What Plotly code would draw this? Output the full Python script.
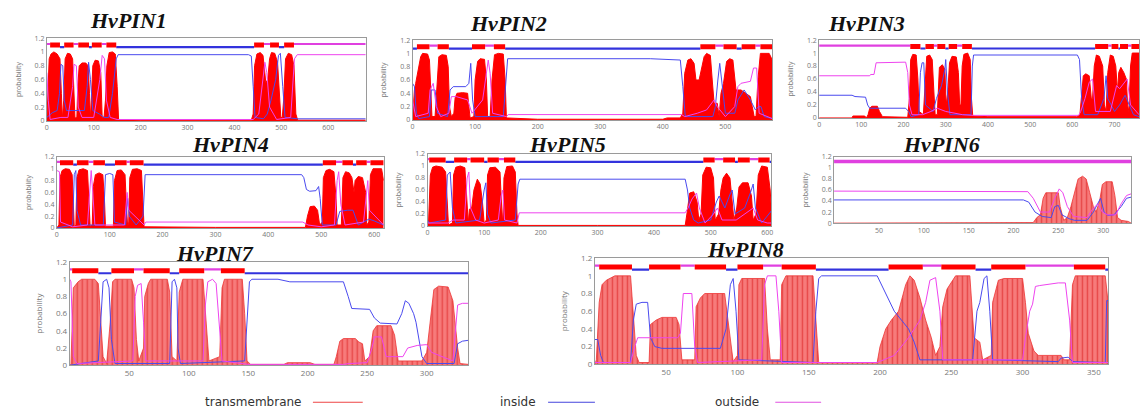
import plotly.graph_objects as go

W, H = 1141, 416

# ---------------- data (residue, probability) ----------------
PIN1_TM = [(0,0),(2,0.3),(5,0.9),(9,0.97),(15,1.0),(22,0.97),(28,0.9),(31,0.4),(33,0.03),(36,0.3),(39,0.9),(44,0.98),(50,0.97),(55,0.9),(58,0.5),(60,0.04),(64,0.05),(66,0.5),(69,0.8),(75,0.84),(83,0.84),(88,0.8),(91,0.4),(93,0.03),(95,0.3),(98,0.8),(103,0.88),(110,0.87),(115,0.7),(118,0.05),(122,0.05),(125,0.3),(128,0.8),(133,0.99),(140,1.0),(146,0.97),(150,0.5),(153,0.02),(200,0.01),(400,0.01),(410,0.02),(425,0.02),(436,0.01),(440,0.1),(443,0.8),(448,0.97),(455,0.99),(461,0.95),(464,0.7),(467,0.55),(471,0.6),(475,0.9),(479,0.99),(486,0.98),(492,0.85),(496,0.3),(499,0.05),(502,0.05),(505,0.3),(509,0.9),(515,0.98),(522,0.96),(527,0.8),(531,0.1),(535,0.01),(680,0.01)]
PIN1_IN = [(0,0.05),(12,0.12),(22,0.15),(27,0.4),(30,0.82),(34,0.8),(37,0.3),(42,0.15),(60,0.15),(80,0.15),(86,0.5),(89,0.85),(93,0.6),(98,0.15),(112,0.1),(122,0.05),(132,0.05),(140,0.4),(148,0.9),(152,0.96),(430,0.96),(436,0.94),(440,0.5),(444,0.05),(462,0.03),(470,0.1),(478,0.3),(488,0.6),(494,0.95),(498,0.98),(503,0.5),(508,0.05),(535,0.03),(680,0.03)]
PIN1_OUT = [(0,0.7),(3,0.3),(7,0.02),(30,0.05),(45,0.05),(55,0.5),(58,0.82),(63,0.8),(67,0.2),(75,0.05),(100,0.05),(113,0.6),(118,0.95),(123,0.9),(127,0.3),(135,0.05),(150,0.02),(440,0.02),(452,0.1),(461,0.6),(465,0.85),(469,0.7),(475,0.2),(490,0.02),(520,0.05),(528,0.9),(534,0.96),(680,0.96)]
PIN1_EDGES = [0,7,28,37,57,67,90,96,117,127,148,442,463,476,495,506,527,680]
PIN1_STATES = ["o","M","i","M","o","M","i","M","o","M","i","M","o","M","i","M","o"]

PIN2_TM = [(0,0),(3,0.45),(5,0.55),(9,0.75),(13,0.95),(16,1.0),(24,0.99),(27,0.9),(29,0.5),(31,0.05),(36,0.05),(39,0.6),(42,0.95),(47,0.98),(54,0.97),(57,0.8),(59,0.2),(62,0.05),(66,0.1),(68,0.33),(71,0.4),(80,0.41),(88,0.4),(90,0.2),(92,0.03),(98,0.05),(100,0.6),(104,0.88),(108,0.92),(115,0.91),(118,0.6),(120,0.05),(124,0.05),(127,0.6),(131,0.98),(137,1.0),(145,0.99),(148,0.6),(150,0.03),(200,0.01),(330,0.01),(340,0.015),(350,0.01),(400,0.01),(407,0.03),(428,0.03),(432,0.1),(435,0.7),(440,0.9),(445,0.92),(450,0.85),(453,0.6),(458,0.6),(461,0.75),(466,0.95),(470,1.0),(476,0.97),(479,0.6),(482,0.25),(487,0.25),(490,0.05),(493,0.4),(497,0.55),(502,0.88),(507,0.92),(512,0.9),(515,0.6),(517,0.45),(525,0.45),(533,0.4),(540,0.35),(543,0.2),(546,0.05),(549,0.05),(552,0.6),(556,1.0),(570,1.0),(575,0.9)]
PIN2_IN = [(0,0.55),(3,0.5),(6,0.1),(10,0.02),(27,0.05),(30,0.45),(36,0.45),(40,0.1),(56,0.05),(60,0.45),(65,0.5),(85,0.5),(90,0.55),(93,0.85),(96,0.3),(100,0.05),(145,0.05),(149,0.6),(152,0.92),(380,0.92),(420,0.9),(428,0.9),(432,0.5),(436,0.05),(480,0.05),(484,0.2),(488,0.6),(491,0.85),(494,0.6),(500,0.1),(515,0.1),(520,0.3),(530,0.45),(540,0.3),(548,0.15),(553,0.2),(557,0.2),(562,0.05),(575,0.02)]
PIN2_OUT = [(0,0.3),(5,0.05),(25,0.1),(28,0.45),(33,0.55),(38,0.2),(45,0.05),(58,0.1),(62,0.35),(70,0.35),(88,0.3),(95,0.1),(112,0.3),(118,0.7),(121,0.9),(124,0.7),(128,0.1),(150,0.05),(153,0.08),(430,0.08),(435,0.05),(455,0.1),(470,0.15),(482,0.3),(487,0.2),(500,0.05),(515,0.2),(520,0.5),(525,0.55),(540,0.58),(545,0.78),(550,0.78),(554,0.1),(575,0.02)]
PIN2_EDGES = [0,7,27,40,58,95,116,130,148,460,484,497,518,526,548,556,575]
PIN2_STATES = ["i","M","o","M","i","M","o","M","i","M","o","M","i","M","o","M"]

PIN3_TM = [(0,0),(78,0.0),(80,0.03),(108,0.03),(112,0.0),(116,0.05),(120,0.15),(125,0.18),(138,0.18),(143,0.1),(150,0.02),(210,0.01),(214,0.3),(217,0.9),(222,0.98),(230,0.97),(234,0.6),(237,0.1),(247,0.05),(251,0.5),(255,0.95),(262,0.97),(268,0.9),(272,0.4),(275,0.05),(280,0.05),(282,0.5),(285,0.78),(292,0.82),(298,0.75),(301,0.2),(305,0.4),(309,0.85),(315,0.95),(325,0.94),(330,0.7),(333,0.2),(336,0.2),(339,0.8),(343,0.98),(352,1.0),(358,0.9),(361,0.3),(364,0.03),(400,0.02),(610,0.02),(618,0.05),(622,0.4),(626,0.65),(632,0.68),(640,0.65),(645,0.3),(648,0.3),(652,0.8),(657,0.97),(664,0.95),(672,0.8),(676,0.2),(680,0.1),(684,0.7),(690,0.97),(697,0.95),(703,0.8),(707,0.4),(710,0.7),(715,0.78),(722,0.7),(728,0.6),(731,0.2),(734,0.1),(738,0.8),(742,1.0),(758,1.0)]
PIN3_IN = [(0,0.35),(78,0.35),(85,0.33),(110,0.32),(115,0.2),(120,0.15),(205,0.15),(212,0.1),(218,0.02),(236,0.05),(240,0.7),(244,0.85),(248,0.85),(252,0.2),(270,0.1),(278,0.3),(290,0.5),(298,0.75),(300,0.9),(304,0.4),(310,0.05),(360,0.05),(363,0.8),(366,0.97),(612,0.97),(617,0.9),(622,0.3),(628,0.05),(660,0.05),(675,0.3),(680,0.65),(684,0.3),(700,0.1),(712,0.2),(725,0.35),(735,0.2),(745,0.05),(758,0.02)]
PIN3_OUT = [(0,0.65),(120,0.65),(122,0.67),(130,0.67),(135,0.85),(205,0.86),(210,0.7),(214,0.2),(220,0.05),(245,0.05),(265,0.1),(280,0.15),(300,0.1),(340,0.05),(365,0.04),(615,0.04),(620,0.1),(630,0.3),(640,0.55),(648,0.6),(655,0.1),(690,0.1),(705,0.5),(712,0.45),(730,0.6),(738,0.2),(758,0.05)]
PIN3_EDGES = [0,216,240,252,272,280,299,307,327,339,362,654,685,693,709,713,732,740,758]
PIN3_STATES = ["o","M","i","M","o","M","i","M","o","M","i","M","o","M","i","M","o","M"]

PIN4_TM = [(0,0),(4,0.05),(6,0.85),(10,0.97),(16,1.0),(24,0.99),(29,0.9),(31,0.3),(33,0.02),(36,0.05),(38,0.85),(42,0.98),(50,1.0),(58,0.97),(61,0.4),(63,0.03),(67,0.05),(69,0.7),(73,0.9),(80,0.93),(87,0.9),(90,0.5),(92,0.03),(107,0.03),(109,0.8),(114,0.97),(122,0.98),(129,0.9),(132,0.3),(134,0.03),(136,0.1),(138,0.85),(143,0.99),(152,1.0),(160,0.97),(163,0.5),(165,0.02),(300,0.01),(470,0.01),(474,0.2),(479,0.36),(487,0.37),(493,0.3),(497,0.05),(502,0.1),(504,0.85),(509,0.97),(516,0.99),(524,0.95),(528,0.5),(530,0.05),(538,0.05),(541,0.85),(546,0.95),(553,0.93),(558,0.85),(562,0.6),(564,0.8),(570,0.87),(578,0.85),(584,0.6),(586,0.05),(590,0.1),(593,0.9),(598,1.0),(614,1.0),(618,0.8)]
PIN4_IN = [(0,0.0),(30,0.05),(33,0.9),(36,0.97),(38,0.3),(45,0.05),(88,0.05),(92,0.9),(100,0.92),(106,0.9),(109,0.1),(130,0.05),(134,0.5),(137,0.2),(150,0.05),(163,0.2),(167,0.9),(463,0.9),(467,0.85),(472,0.65),(478,0.62),(490,0.63),(495,0.7),(498,0.5),(502,0.05),(528,0.05),(535,0.28),(550,0.3),(560,0.3),(570,0.05),(590,0.15),(600,0.12),(618,0.05)]
PIN4_OUT = [(0,0.97),(5,0.95),(7,0.1),(30,0.02),(58,0.05),(62,0.6),(65,0.97),(68,0.6),(72,0.05),(128,0.05),(133,0.6),(136,0.3),(165,0.05),(168,0.1),(465,0.1),(475,0.05),(500,0.02),(525,0.05),(530,0.8),(533,0.95),(537,0.4),(545,0.05),(580,0.1),(588,0.8),(591,0.3),(618,0.05)]
PIN4_EDGES = [0,6,31,38,60,69,91,110,132,138,164,503,528,540,560,566,586,593,618]
PIN4_STATES = ["o","M","i","M","o","M","i","M","o","M","i","M","o","M","i","M","o","M"]

PIN5_TM = [(0,0),(2,0.1),(5,0.85),(9,0.98),(15,1.0),(26,0.98),(32,0.9),(35,0.3),(37,0.02),(44,0.05),(46,0.85),(50,0.98),(58,1.0),(66,0.97),(70,0.4),(72,0.05),(74,0.28),(78,0.3),(82,0.6),(88,0.78),(93,0.7),(97,0.4),(100,0.05),(104,0.1),(106,0.85),(110,0.97),(120,0.98),(128,0.9),(131,0.3),(133,0.03),(135,0.8),(140,0.99),(150,1.0),(155,0.9),(158,0.2),(160,0.01),(300,0.01),(455,0.01),(458,0.2),(463,0.55),(470,0.57),(476,0.4),(479,0.1),(483,0.2),(486,0.85),(492,0.98),(500,0.97),(505,0.8),(508,0.1),(514,0.2),(518,0.6),(522,0.8),(528,0.88),(534,0.8),(538,0.4),(541,0.1),(546,0.3),(550,0.65),(556,0.72),(566,0.72),(572,0.5),(575,0.1),(580,0.2),(584,0.85),(590,1.0),(600,0.98),(605,0.6),(607,0.3)]
PIN5_IN = [(0,0.1),(3,0.05),(32,0.1),(35,0.85),(40,0.9),(44,0.3),(50,0.05),(92,0.1),(100,0.6),(103,0.72),(106,0.2),(112,0.05),(155,0.1),(160,0.7),(163,0.78),(455,0.78),(459,0.6),(463,0.3),(470,0.1),(478,0.05),(500,0.1),(510,0.4),(515,0.5),(525,0.3),(535,0.55),(538,0.6),(543,0.2),(560,0.3),(570,0.55),(575,0.7),(579,0.3),(590,0.05),(607,0.25)]
PIN5_OUT = [(0,0.05),(36,0.05),(45,0.1),(65,0.1),(70,0.8),(73,0.9),(76,0.3),(85,0.1),(100,0.05),(125,0.1),(130,0.5),(133,0.6),(136,0.1),(158,0.05),(162,0.22),(455,0.22),(460,0.3),(467,0.45),(475,0.55),(480,0.3),(490,0.05),(505,0.2),(512,0.3),(520,0.1),(545,0.1),(560,0.2),(575,0.3),(583,0.1),(600,0.05),(607,0.05)]
PIN5_EDGES = [0,3,32,47,70,76,100,106,126,135,155,487,507,522,543,548,569,584,604,607]
PIN5_STATES = ["o","M","i","M","o","M","i","M","o","M","i","M","o","M","i","M","o","M","i"]

PIN6_TM = [(0,0),(80,0.0),(90,0.01),(125,0.01),(135,0.0),(205,0.0),(210,0.01),(222,0.01),(226,0.1),(230,0.15),(233,0.45),(236,0.55),(250,0.55),(252,0.3),(256,0.05),(260,0.1),(264,0.3),(268,0.55),(272,0.8),(277,0.85),(281,0.8),(285,0.55),(289,0.3),(292,0.2),(296,0.4),(299,0.7),(303,0.75),(310,0.75),(313,0.5),(316,0.1),(320,0.05),(328,0.03),(331,0.0)]
PIN6_IN = [(0,0.42),(211,0.42),(217,0.38),(224,0.2),(232,0.12),(242,0.1),(246,0.3),(250,0.32),(254,0.15),(262,0.08),(268,0.05),(282,0.05),(289,0.2),(293,0.32),(297,0.45),(301,0.2),(305,0.14),(312,0.15),(320,0.3),(326,0.45),(331,0.47)]
PIN6_OUT = [(0,0.58),(211,0.58),(216,0.57),(222,0.45),(230,0.2),(240,0.2),(246,0.45),(251,0.62),(255,0.55),(260,0.3),(267,0.12),(282,0.1),(288,0.25),(294,0.35),(299,0.2),(305,0.15),(314,0.15),(320,0.35),(326,0.5),(331,0.53)]
PIN6_EDGES = [0,331]
PIN6_STATES = ["o"]

PIN7_TM = [(0,0),(1,0.01),(3,0.9),(7,0.97),(10,1.0),(21,1.0),(24,0.95),(26,0.5),(28,0.1),(31,0.02),(34,0.5),(36,0.97),(38,1.0),(52,1.0),(54,0.9),(56,0.3),(58,0.05),(62,0.2),(63,0.8),(66,0.95),(68,1.0),(82,1.0),(84,0.85),(86,0.1),(90,0.05),(92,0.85),(95,1.0),(112,1.0),(114,0.6),(117,0.05),(126,0.1),(128,0.9),(130,1.0),(145,1.0),(147,0.6),(149,0.05),(152,0.01),(180,0.01),(183,0.03),(202,0.03),(206,0.01),(222,0.01),(224,0.1),(227,0.28),(230,0.31),(240,0.31),(243,0.27),(246,0.25),(248,0.05),(252,0.1),(255,0.4),(258,0.46),(270,0.46),(273,0.35),(276,0.05),(285,0.05),(296,0.05),(300,0.15),(303,0.5),(306,0.88),(310,0.92),(318,0.91),(322,0.75),(326,0.2),(328,0.02),(335,0.01)]
PIN7_IN = [(0,0.0),(24,0.05),(26,0.5),(28,0.97),(31,1.0),(33,0.9),(35,0.3),(38,0.02),(84,0.02),(85,0.5),(86,0.97),(88,1.0),(90,0.9),(91,0.2),(93,0.02),(147,0.05),(149,0.5),(151,0.97),(153,1.0),(175,1.0),(185,0.97),(230,0.97),(234,0.8),(237,0.66),(252,0.65),(256,0.55),(261,0.49),(275,0.48),(279,0.6),(282,0.75),(285,0.72),(289,0.6),(291,0.5),(296,0.1),(300,0.02),(323,0.02),(326,0.25),(330,0.28),(335,0.29)]
PIN7_OUT = [(0,1.0),(1,0.97),(3,0.1),(6,0.02),(53,0.05),(55,0.8),(57,0.93),(60,0.95),(62,0.5),(64,0.05),(112,0.05),(114,0.7),(116,0.97),(120,1.0),(123,0.95),(126,0.4),(128,0.05),(150,0.01),(230,0.01),(235,0.02),(250,0.03),(254,0.2),(256,0.33),(262,0.33),(266,0.1),(280,0.1),(284,0.2),(292,0.23),(300,0.24),(304,0.15),(322,0.05),(326,0.7),(330,0.72),(335,0.72)]
PIN7_EDGES = [0,2,24,35,54,62,84,92,113,127,147,335]
PIN7_STATES = ["o","M","i","M","o","M","i","M","o","M","i"]

PIN8_TM = [(0,0),(1,0.05),(3,0.7),(5,0.9),(8,0.95),(14,1.0),(25,1.0),(27,0.6),(29,0.1),(31,0.02),(38,0.02),(39,0.45),(43,0.5),(47,0.53),(57,0.53),(59,0.45),(61,0.05),(70,0.05),(71,0.65),(74,0.75),(77,0.8),(91,0.8),(93,0.55),(95,0.3),(97,0.03),(100,0.1),(101,0.9),(103,0.97),(119,0.97),(121,0.4),(123,0.05),(130,0.05),(131,0.9),(134,1.0),(153,1.0),(155,0.5),(157,0.02),(198,0.02),(200,0.2),(204,0.4),(208,0.5),(213,0.6),(218,0.9),(221,1.0),(224,0.95),(228,0.75),(232,0.5),(236,0.3),(239,0.1),(242,0.2),(244,0.65),(247,0.85),(251,0.95),(253,1.0),(263,1.0),(266,0.3),(270,0.25),(272,0.05),(278,0.1),(279,0.7),(283,0.95),(287,0.97),(300,0.97),(302,0.7),(304,0.35),(308,0.15),(311,0.1),(327,0.1),(329,0.05),(333,0.05),(335,0.9),(337,1.0),(358,1.0),(360,0.7)]
PIN8_IN = [(0,0.28),(2,0.28),(4,0.1),(6,0.02),(25,0.02),(27,0.5),(29,0.68),(33,0.7),(37,0.7),(39,0.3),(42,0.2),(47,0.18),(88,0.18),(92,0.4),(95,0.9),(97,0.97),(99,0.6),(101,0.05),(153,0.02),(155,0.6),(157,0.97),(159,1.0),(198,1.0),(201,0.9),(205,0.75),(210,0.6),(215,0.5),(220,0.4),(224,0.25),(228,0.05),(265,0.05),(268,0.6),(270,0.7),(273,0.97),(275,1.0),(277,0.6),(279,0.05),(325,0.03),(327,0.07),(332,0.08),(335,0.03),(358,0.02),(359,0.72),(360,0.72)]
PIN8_OUT = [(0,0.02),(25,0.02),(28,0.2),(30,0.3),(40,0.3),(58,0.3),(60,0.35),(62,0.8),(68,0.8),(70,0.2),(72,0.02),(117,0.05),(119,0.9),(121,1.0),(127,1.0),(129,0.6),(131,0.02),(198,0.02),(210,0.1),(220,0.3),(228,0.5),(232,0.7),(235,0.95),(239,0.98),(242,0.6),(244,0.05),(300,0.05),(302,0.3),(305,0.6),(307,0.68),(309,0.88),(312,0.89),(325,0.92),(330,0.92),(333,0.5),(335,0.02),(360,0.02)]
PIN8_EDGES = [0,3,26,38,60,70,92,100,118,131,155,206,230,243,267,278,302,336,358,360]
PIN8_STATES = ["o","M","i","M","o","M","i","M","o","M","i","M","o","M","i","M","o","M","i"]

NAMES = ["HvPIN1","HvPIN2","HvPIN3","HvPIN4","HvPIN5","HvPIN6","HvPIN7","HvPIN8"]
X_MAX = [680, 575, 758, 618, 607, 331, 335, 360]
X_TICKS = [list(range(0, 601, 100)), list(range(0, 501, 100)), list(range(0, 701, 100)),
           list(range(0, 601, 100)), list(range(0, 601, 100)), list(range(50, 301, 50)),
           list(range(50, 301, 50)), list(range(50, 351, 50))]
Y_TICKS = [0, 0.2, 0.4, 0.6, 0.8, 1.0, 1.2]
Y_TICKTEXT = ["0", "0.2", "0.4", "0.6", "0.8", "1", "1.2"]
LEGEND_LABELS = ["transmembrane", "inside", "outside"]

PROFILES = [
    (PIN1_TM, PIN1_IN, PIN1_OUT, PIN1_EDGES, PIN1_STATES),
    (PIN2_TM, PIN2_IN, PIN2_OUT, PIN2_EDGES, PIN2_STATES),
    (PIN3_TM, PIN3_IN, PIN3_OUT, PIN3_EDGES, PIN3_STATES),
    (PIN4_TM, PIN4_IN, PIN4_OUT, PIN4_EDGES, PIN4_STATES),
    (PIN5_TM, PIN5_IN, PIN5_OUT, PIN5_EDGES, PIN5_STATES),
    (PIN6_TM, PIN6_IN, PIN6_OUT, PIN6_EDGES, PIN6_STATES),
    (PIN7_TM, PIN7_IN, PIN7_OUT, PIN7_EDGES, PIN7_STATES),
    (PIN8_TM, PIN8_IN, PIN8_OUT, PIN8_EDGES, PIN8_STATES),
]

# ---------------- layout (pixel boxes: x0, x1, ytop, ybottom) ----------------
BOXES = [(45, 365, 33, 118), (412, 773, 35, 117), (820, 1141, 35, 115),
         (55, 383, 155, 228), (427, 772, 152, 226), (835, 1133, 155, 223),
         (68, 468, 263, 369), (595, 1110, 259, 368)]
TITLE_POS = [(127, 15), (508, 18), (868, 18), (229, 142), (567, 142), (943, 142), (214, 254), (746, 250)]
STRIPED = [False, False, False, False, False, True, True, True]
TICK_SIZE = [7, 7, 7, 7, 7, 7, 8, 8]

RED = "#ff0000"
BLUE = "#4a4aee"
MAG = "#ee44ee"
TOPO_STYLE = {"M": (1.1, RED, 5), "i": (1.07, "#3333dd", 2.2), "o": (1.115, "#e040e0", 2.2)}


def unzip(pts):
    return [p[0] for p in pts], [p[1] for p in pts]


fig = go.Figure()
for k, (tm, tin, tout, edges, states) in enumerate(PROFILES, start=1):
    xa = "x" if k == 1 else f"x{k}"
    ya = "y" if k == 1 else f"y{k}"
    tx, ty = unzip(tm)
    if STRIPED[k - 1]:
        fig.add_trace(go.Scatter(
            x=tx, y=ty, mode="lines", line=dict(color="#ee3333", width=0.8),
            fill="tozeroy", fillcolor="#f77b7b",
            fillpattern=dict(shape="|", fgcolor="#d81818", bgcolor="#f77b7b", size=5, solidity=0.3),
            xaxis=xa, yaxis=ya, showlegend=False, hoverinfo="skip"))
    else:
        fig.add_trace(go.Scatter(
            x=tx, y=ty, mode="lines", line=dict(color=RED, width=1),
            fill="tozeroy", fillcolor=RED,
            xaxis=xa, yaxis=ya, showlegend=False, hoverinfo="skip"))
    ix, iy = unzip(tin)
    fig.add_trace(go.Scatter(x=ix, y=iy, mode="lines", line=dict(color=BLUE, width=1),
                             xaxis=xa, yaxis=ya, showlegend=False, hoverinfo="skip"))
    ox, oy = unzip(tout)
    fig.add_trace(go.Scatter(x=ox, y=oy, mode="lines", line=dict(color=MAG, width=1),
                             xaxis=xa, yaxis=ya, showlegend=False, hoverinfo="skip"))
    for code in ["i", "o", "M"]:
        yv, col, wid = TOPO_STYLE[code]
        if k == 6 and code == "o":
            wid = 3.5
        sx, sy = [], []
        for a, b, s in zip(edges[:-1], edges[1:], states):
            if s == code:
                sx += [a, b, None]
                sy += [yv, yv, None]
        if sx:
            fig.add_trace(go.Scatter(x=sx, y=sy, mode="lines", line=dict(color=col, width=wid),
                                     xaxis=xa, yaxis=ya, showlegend=False, hoverinfo="skip"))

    x0, x1, yt, yb = BOXES[k - 1]
    ts = TICK_SIZE[k - 1]
    suffix = "" if k == 1 else str(k)
    fig.layout["xaxis" + suffix] = dict(
        domain=[x0 / W, x1 / W], anchor=ya, range=[0, X_MAX[k - 1]],
        tickvals=X_TICKS[k - 1], showline=True, mirror=True, linecolor="#9a9a9a", linewidth=1,
        showgrid=False, zeroline=False, ticks="", tickfont=dict(size=ts, color="#777"),
        fixedrange=True)
    fig.layout["yaxis" + suffix] = dict(
        domain=[1 - yb / H, 1 - yt / H], anchor=xa, range=[0, 1.2],
        tickvals=Y_TICKS, ticktext=Y_TICKTEXT, showline=True, mirror=True, linecolor="#9a9a9a",
        linewidth=1, showgrid=False, zeroline=False, ticks="", tickfont=dict(size=ts, color="#777"),
        title=dict(text="probability", font=dict(size=ts, color="#777"), standoff=12),
        fixedrange=True)
    tx_, ty_ = TITLE_POS[k - 1]
    fig.add_annotation(x=tx_ / W, y=1 - ty_ / H, xref="paper", yref="paper",
                       text=f"<b><i>{NAMES[k - 1]}</i></b>", showarrow=False,
                       xanchor="center", yanchor="middle",
                       font=dict(family="Liberation Serif, DejaVu Serif, serif", size=22, color="#111"))

# legend (text followed by a line sample)
LEG_TEXT_X = [252, 518, 738]
LEG_LINE = [(312, 362, "#ee4444"), (548, 595, "#4444dd"), (776, 822, "#e050e0")]
for lab, tx_, (lx0, lx1, col) in zip(LEGEND_LABELS, LEG_TEXT_X, LEG_LINE):
    fig.add_annotation(x=tx_ / W, y=1 - 407 / H, xref="paper", yref="paper", text=lab,
                       showarrow=False, xanchor="center", yanchor="middle",
                       font=dict(family="DejaVu Sans, sans-serif", size=12, color="#333"))
    fig.add_shape(type="line", xref="paper", yref="paper", x0=lx0 / W, x1=lx1 / W,
                  y0=1 - 407 / H, y1=1 - 407 / H, line=dict(color=col, width=1.2))

fig.update_layout(width=W, height=H, margin=dict(l=0, r=0, t=0, b=0),
                  paper_bgcolor="white", plot_bgcolor="white", showlegend=False)

fig.write_html("out.html", config={"displayModeBar": False},
               post_script="document.body.style.margin='0';document.body.style.overflow='hidden';")
